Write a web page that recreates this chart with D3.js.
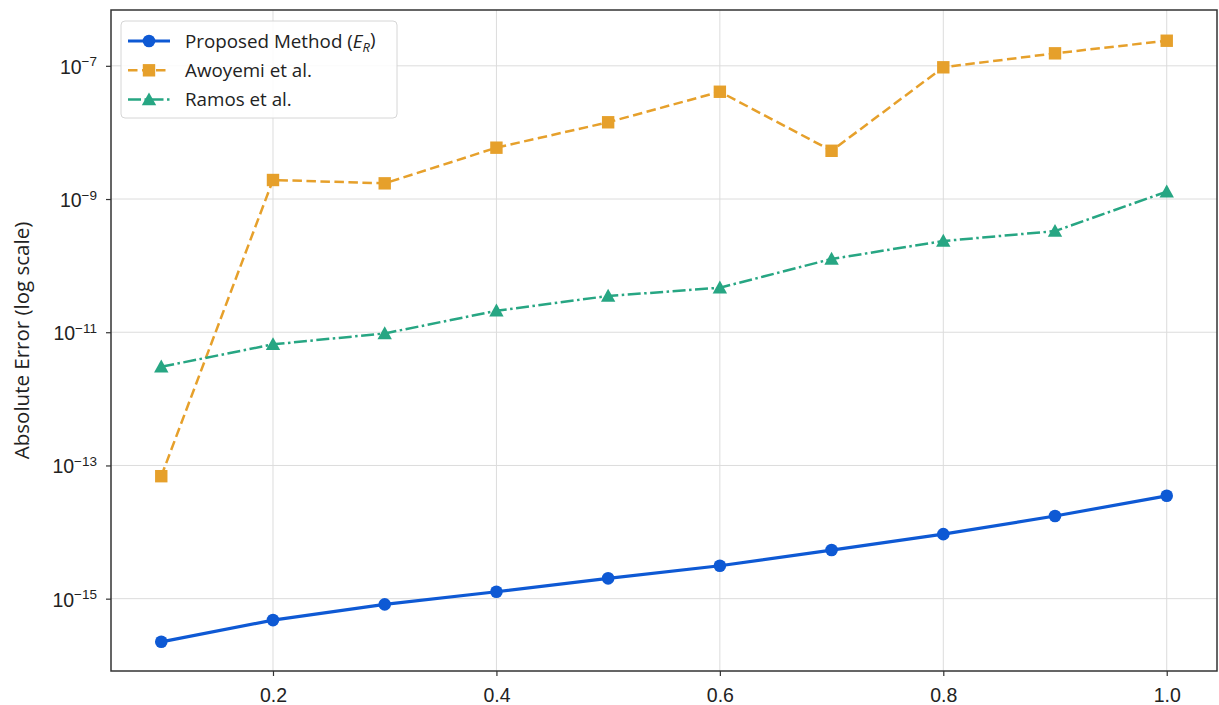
<!DOCTYPE html>
<html>
<head>
<meta charset="utf-8">
<script src="https://cdn.jsdelivr.net/npm/d3@7"></script>
<style>
  html, body { margin: 0; padding: 0; background: #fff; }
  svg { display: block; font-family: "Open Sans", Roboto, sans-serif; }
</style>
</head>
<body>
<svg id="chart" width="1219" height="705"></svg>
<script>
// Step sizes h
const xValues = [0.1, 0.2, 0.3, 0.4, 0.5, 0.6, 0.7, 0.8, 0.9, 1.0];

// Absolute errors for each method
const proposedErr = [2.25e-16, 4.77e-16, 8.2e-16, 1.27e-15, 2.02e-15, 3.12e-15, 5.37e-15, 9.3e-15, 1.74e-14, 3.5e-14];
const awoyemiErr  = [6.9e-14, 1.93e-9, 1.72e-9, 5.9e-9, 1.42e-8, 4.08e-8, 5.3e-9, 9.5e-8, 1.54e-7, 2.38e-7];
const ramosErr    = [3.03e-12, 6.58e-12, 9.6e-12, 2.1e-11, 3.5e-11, 4.66e-11, 1.26e-10, 2.34e-10, 3.3e-10, 1.29e-9];

const xTicks = [0.2, 0.4, 0.6, 0.8, 1.0];
const yTickExps = [-15, -13, -11, -9, -7];

const seriesNames = ["Proposed Method", "Awoyemi et al.", "Ramos et al."];

const series = [
  { name: seriesNames[0], values: proposedErr, color: "#0E59D4", width: 3.2, dash: null,             marker: "circle" },
  { name: seriesNames[1], values: awoyemiErr,  color: "#E6A02B", width: 2.5, dash: "9.5,4.5",        marker: "square" },
  { name: seriesNames[2], values: ramosErr,    color: "#27A683", width: 2.5, dash: "13,3.5,2.5,3.5", marker: "triangle" }
];

const svg = d3.select("#chart");
const plotLeft = 111, plotRight = 1217, plotTop = 10, plotBottom = 671;

const x = d3.scaleLinear().domain([0.055, 1.045]).range([plotLeft, plotRight]);
const y = d3.scaleLog().domain([Math.pow(10, -16.086), Math.pow(10, -6.162)]).range([plotBottom, plotTop]);

// Grid
const grid = svg.append("g").attr("stroke", "#dcdcdc").attr("stroke-width", 1);
xTicks.forEach(t => grid.append("line")
  .attr("x1", x(t)).attr("x2", x(t)).attr("y1", plotTop).attr("y2", plotBottom));
yTickExps.forEach(e => grid.append("line")
  .attr("x1", plotLeft).attr("x2", plotRight).attr("y1", y(Math.pow(10, e))).attr("y2", y(Math.pow(10, e))));

// Axes
const xAxis = d3.axisBottom(x).tickValues(xTicks).tickFormat(d3.format(".1f")).tickSize(5).tickPadding(12);
const gx = svg.append("g").attr("transform", `translate(0,${plotBottom})`).call(xAxis);
gx.select(".domain").remove();
gx.selectAll(".tick line").attr("stroke", "#333").attr("stroke-width", 1.2);
gx.selectAll(".tick text").attr("fill", "#222").style("font-size", "19.5px");

const yAxis = d3.axisLeft(y).tickValues(yTickExps.map(e => Math.pow(10, e))).tickFormat("").tickSize(5);
const gy = svg.append("g").attr("transform", `translate(${plotLeft},0)`).call(yAxis);
gy.select(".domain").remove();
gy.selectAll(".tick line").attr("stroke", "#333").attr("stroke-width", 1.2);
gy.selectAll(".tick").each(function(d) {
  const e = Math.round(Math.log10(d));
  const t = d3.select(this).append("text")
    .attr("x", -14).attr("dy", "0.38em").attr("text-anchor", "end").attr("fill", "#222")
    .style("font-size", "19.5px");
  t.append("tspan").text("10");
  t.append("tspan").attr("dy", "-0.55em").style("font-size", "13.5px").text("\u2212" + Math.abs(e));
});

// Frame
svg.append("rect").attr("x", plotLeft).attr("y", plotTop)
  .attr("width", plotRight - plotLeft).attr("height", plotBottom - plotTop)
  .attr("fill", "none").attr("stroke", "#333").attr("stroke-width", 1.5);

// Y label
svg.append("text")
  .attr("transform", `translate(29,${(plotTop + plotBottom) / 2}) rotate(-90)`)
  .attr("text-anchor", "middle").attr("fill", "#222").style("font-size", "20.5px")
  .text("Absolute Error (log scale)");

function drawMarker(g, type, cx, cy, color) {
  if (type === "circle") {
    g.append("circle").attr("cx", cx).attr("cy", cy).attr("r", 6.3).attr("fill", color);
  } else if (type === "square") {
    g.append("rect").attr("x", cx - 6.2).attr("y", cy - 6.2).attr("width", 12.4).attr("height", 12.4).attr("fill", color);
  } else {
    const s = 7.2;
    g.append("path").attr("d", `M${cx},${cy - s}L${cx + s},${cy + s * 0.8}L${cx - s},${cy + s * 0.8}Z`).attr("fill", color);
  }
}

// Lines and markers
const marks = svg.append("g");
const line = d3.line().x((d, i) => x(xValues[i])).y(d => y(d));
series.forEach(s => {
  marks.append("path").datum(s.values).attr("d", line)
    .attr("fill", "none").attr("stroke", s.color).attr("stroke-width", s.width)
    .attr("stroke-dasharray", s.dash).attr("stroke-linejoin", "round");
  s.values.forEach((v, i) => drawMarker(marks, s.marker, x(xValues[i]), y(v), s.color));
});

// Legend
const lg = svg.append("g");
lg.append("rect").attr("x", 121).attr("y", 21).attr("width", 276).attr("height", 97).attr("rx", 4)
  .attr("fill", "rgba(255,255,255,0.85)").attr("stroke", "#d6d6d6").attr("stroke-width", 1);
series.forEach((s, i) => {
  const cy = 41 + i * 29.3;
  lg.append("line").attr("x1", 128).attr("x2", 170).attr("y1", cy).attr("y2", cy)
    .attr("stroke", s.color).attr("stroke-width", s.width).attr("stroke-dasharray", s.dash);
  drawMarker(lg, s.marker, 149, cy, s.color);
  const t = lg.append("text").attr("x", 185).attr("y", cy).attr("dy", "0.36em").attr("fill", "#222")
    .style("font-size", "18.8px").text(s.name);
  if (i === 0) {
    t.append("tspan").text(" (");
    t.append("tspan").style("font-style", "italic").text("E");
    t.append("tspan").attr("dy", "0.3em").style("font-size", "13px").style("font-style", "italic").text("R");
    t.append("tspan").attr("dy", "-0.3em").text(")");
  }
});
</script>
</body>
</html>
